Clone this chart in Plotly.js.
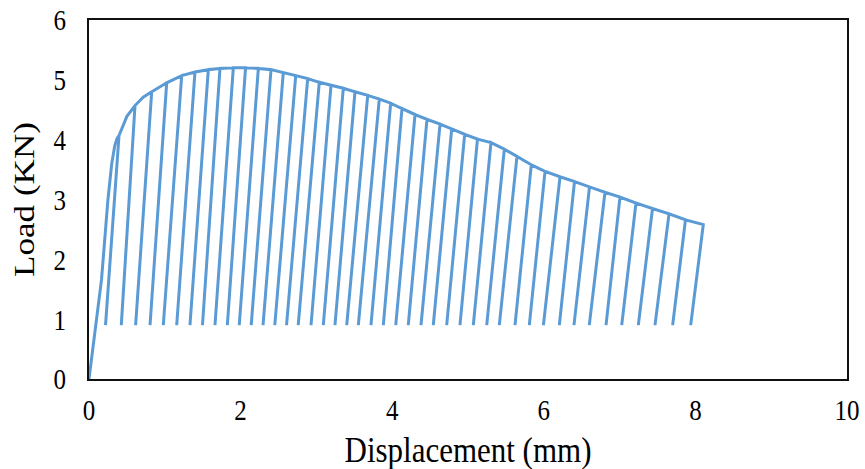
<!DOCTYPE html>
<html>
<head>
<meta charset="utf-8">
<script src="https://cdn.plot.ly/plotly-3.0.1.min.js"></script>
<style>html,body{margin:0;padding:0;background:#fff;}#chart{width:865px;height:469px;}</style>
</head>
<body>
<div id="chart"></div>
<script>
// Initial loading branch (mm, kN)
const initX = [0, 0.03, 0.165, 0.25, 0.30, 0.34, 0.37];
const initY = [0, 0.30, 1.66, 3.00, 3.60, 3.90, 4.02];

// Peak (unloading start) of each cycle
const topX = [0.396,0.607,0.827,1.025,1.223,1.398,1.574,1.728,1.904,2.065,2.234,2.401,2.563,2.727,2.885,3.038,3.193,3.355,3.509,3.677,3.830,3.980,4.129,4.301,4.459,4.631,4.785,4.956,5.125,5.303,5.479,5.646,5.835,6.016,6.214,6.405,6.603,6.807,7.005,7.216,7.434,7.652,7.869,8.104];
const topY = [4.07,4.57,4.80,4.95,5.07,5.13,5.17,5.19,5.20,5.20,5.19,5.17,5.12,5.07,5.02,4.96,4.91,4.86,4.80,4.74,4.68,4.61,4.52,4.42,4.34,4.26,4.18,4.09,4.01,3.95,3.84,3.72,3.58,3.47,3.38,3.30,3.21,3.12,3.04,2.94,2.85,2.76,2.66,2.58];

// Envelope point between the first peaks (where the envelope bends)
const bendX = [0.50, 0.715];
const bendY = [4.39, 4.71];

// Unloading end (minimum load) of each cycle
const botX = [0.218,0.426,0.615,0.805,0.980,1.157,1.332,1.497,1.662,1.825,1.982,2.140,2.296,2.451,2.606,2.760,2.929,3.091,3.245,3.400,3.553,3.720,3.883,4.047,4.212,4.380,4.542,4.719,4.894,5.070,5.247,5.413,5.620,5.809,5.995,6.205,6.398,6.600,6.821,7.028,7.247,7.467,7.700,7.938];
const botY = [0.9,0.9,0.9,0.9,0.9,0.9,0.9,0.9,0.9,0.9,0.9,0.9,0.9,0.9,0.9,0.9,0.9,0.9,0.9,0.9,0.9,0.9,0.9,0.9,0.9,0.9,0.9,0.9,0.9,0.9,0.9,0.9,0.9,0.9,0.9,0.9,0.9,0.9,0.9,0.9,0.9,0.9,0.9,0.9];

const xTicks = [0, 2, 4, 6, 8, 10];
const yTicks = [0, 1, 2, 3, 4, 5, 6];

// Build the load path: initial branch, then peak -> unload -> reload for each cycle
const px = initX.slice();
const py = initY.slice();
for (let i = 0; i < topX.length; i++) {
  px.push(topX[i], botX[i], topX[i]);
  py.push(topY[i], botY[i], topY[i]);
  if (i < bendX.length) { px.push(bendX[i]); py.push(bendY[i]); }
}

const font = 'Liberation Serif, Times New Roman, serif';
const trace = {
  x: px, y: py, type: 'scatter', mode: 'lines',
  line: {color: '#5B9BD5', width: 3},
  hoverinfo: 'skip'
};

const layout = {
  width: 865, height: 469,
  margin: {l: 89, r: 18, t: 20, b: 90},
  paper_bgcolor: '#fff', plot_bgcolor: '#fff',
  showlegend: false,
  font: {family: font, color: '#000', size: 24},
  xaxis: {
    range: [0, 10], tickvals: xTicks, ticktext: xTicks.map(String),
    showgrid: false, zeroline: false, ticks: '',
    showline: true, linecolor: '#111', linewidth: 2, mirror: true,
    ticklabelstandoff: 7,
    tickfont: {family: font, size: 25, color: '#000'},
    title: {text: 'Displacement (mm)', font: {family: font, size: 31, color: '#000'}, standoff: 17}
  },
  yaxis: {
    range: [0, 6], tickvals: yTicks, ticktext: yTicks.map(String),
    showgrid: false, zeroline: false, ticks: '',
    showline: true, linecolor: '#111', linewidth: 2, mirror: true,
    ticklabelstandoff: 16,
    tickfont: {family: font, size: 25, color: '#000'},
    title: {text: 'Load (KN)', font: {family: font, size: 30, color: '#000'}, standoff: 10}
  }
};

// The reference text is drawn slightly condensed (taller than wide): stretch vertically
function stretchText(sel, s) {
  document.querySelectorAll(sel).forEach(function (t) {
    const bb = t.getBBox();
    const cons = t.transform.baseVal.consolidate();
    const M = cons ? cons.matrix : {a:1,b:0,c:0,d:1,e:0,f:0};
    const cx = bb.x + bb.width / 2, cy = bb.y + bb.height / 2;
    const qx = M.a * cx + M.c * cy + M.e;
    const qy = M.b * cx + M.d * cy + M.f;
    const old = t.getAttribute('transform') || '';
    t.setAttribute('transform', 'translate(' + qx + ',' + qy + ') scale(1,' + s + ') translate(' + (-qx) + ',' + (-qy) + ') ' + old);
  });
}

Plotly.newPlot('chart', [trace], layout, {staticPlot: true, displayModeBar: false}).then(function () {
  stretchText('.xtick text, .ytick text', 1.2);
  stretchText('.xtitle', 1.15);
  stretchText('.ytitle', 1.17);
});
</script>
</body>
</html>
